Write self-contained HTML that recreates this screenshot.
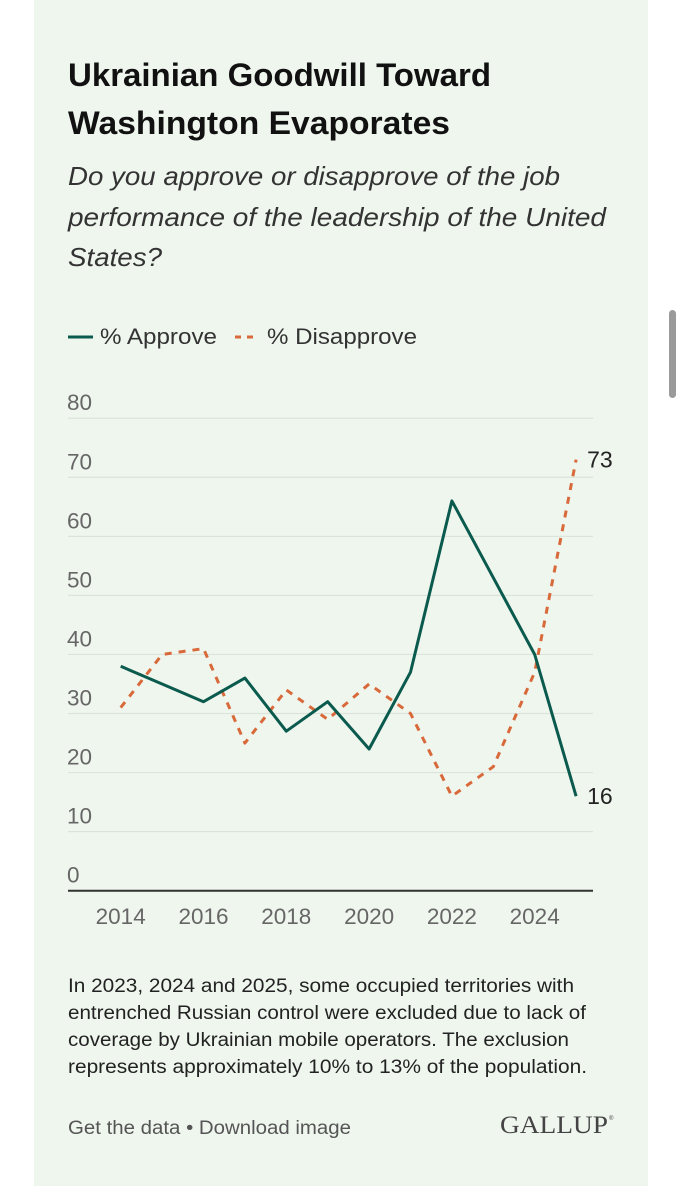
<!DOCTYPE html>
<html><head><meta charset="utf-8">
<style>
html,body{margin:0;padding:0;background:#fff;}
svg{display:block;font-family:"Liberation Sans",sans-serif;}
</style></head>
<body>
<svg id="root" width="681" height="1200" viewBox="0 0 681 1200">
<rect x="34" y="0" width="614" height="1186" fill="#eff6ee"/>
<rect x="669" y="310" width="7" height="88" rx="3.5" fill="#9a9a9a"/>
<text x="68" y="86" font-size="32.5" font-weight="bold" fill="#111" textLength="423" lengthAdjust="spacingAndGlyphs">Ukrainian Goodwill Toward</text>
<text x="68" y="134" font-size="32.5" font-weight="bold" fill="#111" textLength="382" lengthAdjust="spacingAndGlyphs">Washington Evaporates</text>
<g font-size="26" font-style="italic" fill="#333">
<text x="68" y="185" textLength="492" lengthAdjust="spacingAndGlyphs">Do you approve or disapprove of the job</text>
<text x="68" y="226" textLength="538" lengthAdjust="spacingAndGlyphs">performance of the leadership of the United</text>
<text x="68" y="266" textLength="94" lengthAdjust="spacingAndGlyphs">States?</text>
</g>
<g>
<line x1="68" y1="337" x2="93" y2="337" stroke="#0b5a4e" stroke-width="3"/>
<text x="100" y="344" font-size="22.5" fill="#333" textLength="117" lengthAdjust="spacingAndGlyphs">% Approve</text>
<line x1="235" y1="337" x2="258" y2="337" stroke="#d8693a" stroke-width="3" stroke-dasharray="6,6"/>
<text x="267" y="344" font-size="22.5" fill="#333" textLength="150" lengthAdjust="spacingAndGlyphs">% Disapprove</text>
</g>
<g id="plot"></g>
<g font-size="19" fill="#222">
<text x="68" y="992" textLength="506" lengthAdjust="spacingAndGlyphs">In 2023, 2024 and 2025, some occupied territories with</text>
<text x="68" y="1019" textLength="518" lengthAdjust="spacingAndGlyphs">entrenched Russian control were excluded due to lack of</text>
<text x="68" y="1046" textLength="501" lengthAdjust="spacingAndGlyphs">coverage by Ukrainian mobile operators. The exclusion</text>
<text x="68" y="1073" textLength="519" lengthAdjust="spacingAndGlyphs">represents approximately 10% to 13% of the population.</text>
</g>
<text x="68" y="1134" font-size="19" fill="#555" textLength="283" lengthAdjust="spacingAndGlyphs">Get the data • Download image</text>
<text x="500" y="1133" font-size="25" fill="#444" font-family="Liberation Serif, serif" textLength="108" lengthAdjust="spacingAndGlyphs">GALLUP</text>
<text x="609" y="1120" font-size="6" fill="#444">®</text>
</svg>
<script>
const years = [2014,2015,2016,2017,2018,2019,2020,2021,2022,2023,2024,2025];
const approve = [38,35,32,36,27,32,24,37,66,53,40,16];
const disapprove = [31,40,41,25,34,29,35,30,16,21,37,73];
const yTicks = [0,10,20,30,40,50,60,70,80];
const xTickLabels = [2014,2016,2018,2020,2022,2024];

const NS = 'http://www.w3.org/2000/svg';
const plot = document.getElementById('plot');
const X0 = 120.7, XSTEP = 41.4, Y0 = 890.7, YUNIT = 5.906;
function xs(yr){ return X0 + (yr - 2014) * XSTEP; }
function ys(v){ return Y0 - v * YUNIT; }
function mk(tag, attrs){ const e = document.createElementNS(NS, tag); for (const k in attrs) e.setAttribute(k, attrs[k]); plot.appendChild(e); return e; }

yTicks.forEach(t => {
  if (t > 0) {
    const g = mk('line', {x1:68, x2:593, y1:ys(t), y2:ys(t), stroke:'#dbe3da', 'stroke-width':1.2});
    
    
  }
  const l = mk('text', {x:67, y:ys(t) - 8, 'font-size':22.5, fill:'#666'});
  l.textContent = t;
  
  
});
const ax = mk('line', {x1:68, x2:593, y1:Y0, y2:Y0, stroke:'#333', 'stroke-width':2});


xTickLabels.forEach(yr => {
  const l = mk('text', {x:xs(yr), y:924, 'font-size':22.5, fill:'#666', 'text-anchor':'middle'});
  l.textContent = yr;
  
  
});
function pts(arr){ return arr.map((v,i) => xs(years[i]).toFixed(1) + ',' + ys(v).toFixed(1)).join(' '); }
const dl = mk('polyline', {points:pts(disapprove), fill:'none', stroke:'#d8693a', 'stroke-width':3, 'stroke-dasharray':'7,7', 'stroke-linejoin':'round'});


const al = mk('polyline', {points:pts(approve), fill:'none', stroke:'#0b5a4e', 'stroke-width':3, 'stroke-linejoin':'round'});


const last = years.length - 1;
const dlab = mk('text', {x:xs(years[last]) + 11, y:ys(disapprove[last]) + 8, 'font-size':23, fill:'#222'});
dlab.textContent = disapprove[last];


const alab = mk('text', {x:xs(years[last]) + 11, y:ys(approve[last]) + 8, 'font-size':23, fill:'#222'});
alab.textContent = approve[last];


</script>
</body></html>
